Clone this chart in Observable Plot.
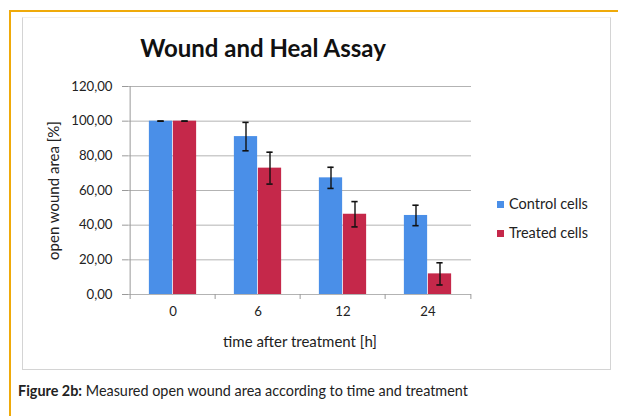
<!DOCTYPE html>
<html>
<head>
<meta charset="utf-8">
<script src="https://cdn.jsdelivr.net/npm/d3@7"></script>
<script src="https://cdn.jsdelivr.net/npm/@observablehq/plot@0.6"></script>
<style>
  html, body { margin: 0; padding: 0; background: #fff; width: 618px; height: 416px; overflow: hidden; }
  body { position: relative; font-family: Lato, "Open Sans", sans-serif; color: #222; }
  #frame { position: absolute; left: 9px; top: 10px; width: 620px; height: 420px;
           border-left: 2px solid #efaa0a; border-top: 2px solid #efaa0a; }
  #box { position: absolute; left: 22px; top: 17px; width: 587px; height: 351px;
         border: 1px solid #d4d4d4; border-top-color: #f0f0f0; }
  #title { position: absolute; left: 22px; width: 482px; top: 33px; text-align: center;
           font-size: 24px; font-weight: 700; color: #111; }
  #chart { position: absolute; left: 0; top: 0; }
  #legend { position: absolute; left: 497px; top: 194px; font-size: 14.5px; color: #222; }
  #legend div { height: 29px; line-height: 19px; white-space: nowrap; }
  #legend span.sw { display: inline-block; width: 7px; height: 7px; margin-right: 5px; vertical-align: 1px; }
  #caption { position: absolute; left: 18px; top: 382px; font-size: 14.4px; color: #222; white-space: nowrap; }
  #chart svg text { font-family: Lato, "Open Sans", sans-serif; }
  #chart svg g[aria-label="y-axis label"] text, #chart svg g[aria-label="y-axis label"] { font-size: 15px; }
  #chart svg g[aria-label="x-axis label"] text, #chart svg g[aria-label="x-axis label"] { font-size: 15px; }
</style>
</head>
<body>
<div id="frame"></div>
<div id="box"></div>
<div id="chart"></div>
<div id="title">Wound and Heal Assay</div>
<div id="legend"></div>
<div id="caption"><b>Figure 2b:</b> Measured open wound area according to time and treatment</div>
<script>
// ---- data ----
const times = ["0", "6", "12", "24"];
const seriesNames = ["Control cells", "Treated cells"];
const controlValues = [100, 91.1, 67.3, 45.6];
const treatedValues = [100, 72.9, 46.3, 11.9];
const controlErrors = [0, 8.2, 6.1, 5.9];
const treatedErrors = [0, 9.2, 7.3, 6.4];
const seriesColors = ["#4a8fe8", "#c5284a"];
const yTicks = [0, 20, 40, 60, 80, 100, 120];
const yTickLabels = ["0,00", "20,00", "40,00", "60,00", "80,00", "100,00", "120,00"];

const rows = [];
times.forEach((t, i) => {
  rows.push({time: t, series: seriesNames[0], value: controlValues[i], err: controlErrors[i]});
  rows.push({time: t, series: seriesNames[1], value: treatedValues[i], err: treatedErrors[i]});
});

// ---- layout ----
const W = 618, H = 360;
const mL = 128, mR = 147, mT = 86, mB = 66;
const bw = (W - mL - mR) / times.length;  // band width
const barW = 24;
const capHalf = 3.5;

const ctrl = rows.filter(d => d.series === seriesNames[0]);
const trt = rows.filter(d => d.series === seriesNames[1]);

const errMarks = (data, shift) => [
  Plot.ruleX(data, {x: "time", y1: d => d.value - d.err, y2: d => d.value + d.err, dx: shift, stroke: "#111", strokeWidth: 1.4}),
  Plot.tickY(data, {x: "time", y: d => d.value + d.err, dx: shift, insetLeft: bw / 2 - capHalf, insetRight: bw / 2 - capHalf, stroke: "#111", strokeWidth: 1.6}),
  Plot.tickY(data, {x: "time", y: d => d.value - d.err, dx: shift, insetLeft: bw / 2 - capHalf, insetRight: bw / 2 - capHalf, stroke: "#111", strokeWidth: 1.6})
];

const chart = Plot.plot({
  width: W, height: H,
  marginLeft: mL, marginRight: mR, marginTop: mT, marginBottom: mB,
  style: {fontFamily: "Lato, 'Open Sans', sans-serif", fontSize: "13px", background: "transparent", color: "#222"},
  x: {type: "band", domain: times, padding: 0},
  y: {domain: [0, 120]},
  marks: [
    Plot.ruleY(yTicks, {stroke: "#b3b3b3", strokeWidth: 1}),
    Plot.ruleX([times[0]], {x: d => d, dx: -bw / 2, y1: 0, y2: 120, stroke: "#9a9a9a"}),
    Plot.barY(ctrl, {x: "time", y: "value", fill: seriesColors[0], insetLeft: bw / 2 - barW, insetRight: bw / 2}),
    Plot.barY(trt, {x: "time", y: "value", fill: seriesColors[1], insetLeft: bw / 2, insetRight: bw / 2 - barW}),
    ...errMarks(ctrl, -barW / 2),
    ...errMarks(trt, barW / 2),
    // y axis ticks and labels
    Plot.axisY({ticks: yTicks, text: null, tickSize: 6, stroke: "#9a9a9a", label: null}),
    Plot.text(yTicks, {y: d => d, text: (d, i) => yTickLabels[i], frameAnchor: "left", dx: -16,
                       textAnchor: "end", fontSize: 13.2, fill: "#222"}),
    Plot.axisY({ticks: [], label: "open wound area [%]", labelAnchor: "center",
                labelOffset: 80, labelArrow: "none"}),
    // x axis labels and boundary ticks
    Plot.text(times, {x: d => d, text: d => d, frameAnchor: "bottom", dy: 21, fontSize: 13.2, fill: "#222"}),
    Plot.axisX({ticks: [], label: "time after treatment [h]", labelAnchor: "center", labelOffset: 52,
                labelArrow: "none"}),
    Plot.axisX({ticks: times, text: null, label: null, tickSize: 5, dx: -bw / 2, stroke: "#9a9a9a"}),
    Plot.axisX({ticks: [times[times.length - 1]], text: null, label: null, tickSize: 5, dx: bw / 2, stroke: "#9a9a9a"})
  ]
});
document.getElementById("chart").appendChild(chart);

// legend
const lg = document.getElementById("legend");
seriesNames.forEach((name, i) => {
  const row = document.createElement("div");
  const sw = document.createElement("span");
  sw.className = "sw";
  sw.style.background = seriesColors[i];
  row.appendChild(sw);
  row.appendChild(document.createTextNode(name));
  lg.appendChild(row);
});
</script>
</body>
</html>
